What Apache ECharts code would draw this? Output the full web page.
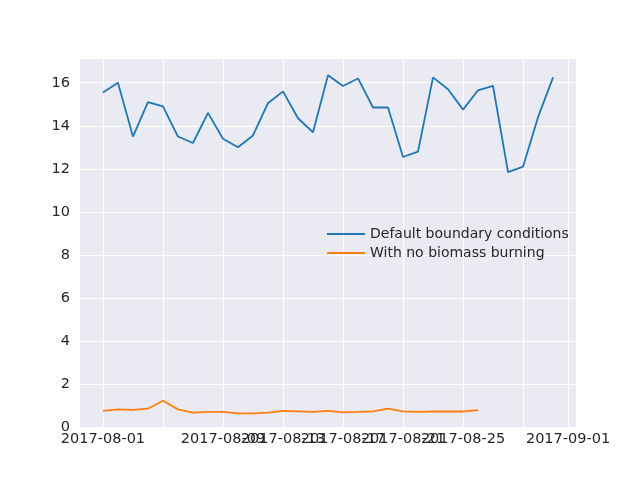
<!DOCTYPE html>
<html>
<head>
<meta charset="UTF-8">
<script src="https://cdn.jsdelivr.net/npm/echarts@6/dist/echarts.min.js"></script>
</head>
<body style="margin:0">
<div id="mainChart" style="width:640px;height:480px;"></div>
<script>
// day offsets from 2017-08-01
const tickDays = [0, 4, 8, 12, 16, 20, 24, 28, 31]
const tickLabels = ['2017-08-01', '2017-08-05', '2017-08-09', '2017-08-13', '2017-08-17', '2017-08-21', '2017-08-25', '2017-08-29', '2017-09-01']
const defaultBC = [15.55, 16.0, 13.5, 15.1, 14.9, 13.5, 13.2, 14.6, 13.4, 13.0, 13.55, 15.05, 15.6, 14.35, 13.7, 16.35,
    15.85, 16.2, 14.85, 14.85, 12.55, 12.8, 16.25, 15.7, 14.75, 15.65, 15.85, 11.85, 12.1, 14.4, 16.25]
const noBiomass = [0.75, 0.82, 0.8, 0.85, 1.22, 0.82, 0.67, 0.7, 0.7, 0.63, 0.63, 0.67, 0.75, 0.73, 0.7, 0.75,
    0.68, 0.7, 0.73, 0.85, 0.73, 0.7, 0.72, 0.72, 0.72, 0.78]

const toPairs = arr => arr.map((v, i) => [i, v])
const font = 'DejaVu Sans'

let chart = echarts.init(document.getElementById('mainChart'))
chart.setOption({
    animation: false,
    textStyle: { fontFamily: font },
    grid: { left: 80, right: 64, top: 58, bottom: 53, show: true, backgroundColor: '#EAEAF2', borderWidth: 0 },
    legend: {
        orient: 'vertical', left: 322, top: 222, itemGap: 5, itemWidth: 38, itemHeight: 2,
        icon: 'rect',
        textStyle: { fontFamily: font, fontSize: 14, color: '#262626' },
        data: ['Default boundary conditions', 'With no biomass burning']
    },
    xAxis: {
        type: 'value', min: -1.53, max: 31.53,
        axisLine: { show: false }, axisTick: { show: false, customValues: tickDays },
        axisLabel: {
            customValues: tickDays, fontSize: 14.5, color: '#262626', margin: 5,
            showMinLabel: true, showMaxLabel: true, hideOverlap: false,
            formatter: v => tickLabels[tickDays.indexOf(Math.round(v))] || ''
        },
        splitLine: { show: true, lineStyle: { color: '#fff', width: 1 } }
    },
    yAxis: {
        type: 'value', min: 0, max: 17.15, interval: 2,
        axisLine: { show: false }, axisTick: { show: false },
        axisLabel: { fontSize: 14.5, color: '#262626', margin: 10, showMaxLabel: false },
        splitLine: { lineStyle: { color: '#fff', width: 1 } }
    },
    series: [
        { name: 'Default boundary conditions', type: 'line', data: toPairs(defaultBC), showSymbol: false,
          lineStyle: { color: '#1f77b4', width: 1.8 }, itemStyle: { color: '#1f77b4' } },
        { name: 'With no biomass burning', type: 'line', data: toPairs(noBiomass), showSymbol: false,
          lineStyle: { color: '#ff7f0e', width: 1.8 }, itemStyle: { color: '#ff7f0e' } }
    ]
})
</script>
</body>
</html>
